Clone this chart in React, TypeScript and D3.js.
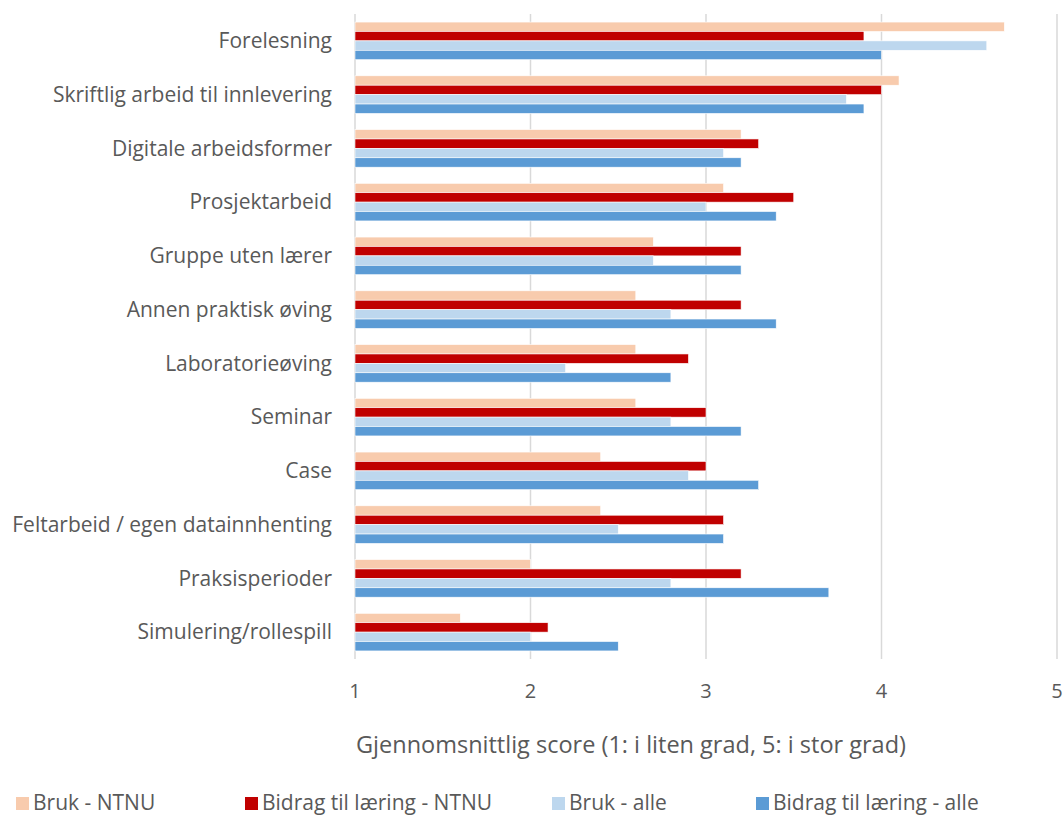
import * as d3 from 'd3';
import React from 'react';

const categories = [
  'Forelesning',
  'Skriftlig arbeid til innlevering',
  'Digitale arbeidsformer',
  'Prosjektarbeid',
  'Gruppe uten lærer',
  'Annen praktisk øving',
  'Laboratorieøving',
  'Seminar',
  'Case',
  'Feltarbeid / egen datainnhenting',
  'Praksisperioder',
  'Simulering/rollespill',
];

const seriesNames = ['Bruk - NTNU', 'Bidrag til læring - NTNU', 'Bruk - alle', 'Bidrag til læring - alle'];

const brukNtnu = [4.7, 4.1, 3.2, 3.1, 2.7, 2.6, 2.6, 2.6, 2.4, 2.4, 2.0, 1.6];
const bidragNtnu = [3.9, 4.0, 3.3, 3.5, 3.2, 3.2, 2.9, 3.0, 3.0, 3.1, 3.2, 2.1];
const brukAlle = [4.6, 3.8, 3.1, 3.0, 2.7, 2.8, 2.2, 2.8, 2.9, 2.5, 2.8, 2.0];
const bidragAlle = [4.0, 3.9, 3.2, 3.4, 3.2, 3.4, 2.8, 3.2, 3.3, 3.1, 3.7, 2.5];

const xTicks = [1, 2, 3, 4, 5];
const colors = ['#F8CBAD', '#C00000', '#BDD7EE', '#5B9BD5'];

const W = 1064;
const H = 816;
const font = '"Open Sans", "DejaVu Sans", sans-serif';

export default function App() {
  const seriesValues = [brukNtnu, bidragNtnu, brukAlle, bidragAlle];
  const x = d3.scaleLinear().domain([1, 5]).range([355, 1057]);
  const y = d3.scaleBand<string>().domain(categories).range([14, 659]).paddingInner(0.3).paddingOuter(0.15);
  const inner = d3.scaleBand<number>().domain([0, 1, 2, 3]).range([0, y.bandwidth()]);

  const legendX = [16, 245, 552, 756];

  return (
    <div style={{ position: 'absolute', left: 0, top: 0 }}>
      <svg width={W} height={H} style={{ display: 'block', background: '#fff' }}>
        {xTicks.map((t) => (
          <line key={t} x1={x(t)} x2={x(t)} y1={14} y2={659} stroke="#D9D9D9" strokeWidth={1.5} />
        ))}
        {categories.map((c, ci) => (
          <g key={c} transform={`translate(0,${y(c)})`}>
            {seriesValues.map((vals, si) => (
              <rect
                key={si}
                x={x(1)}
                y={inner(si)}
                width={x(vals[ci]) - x(1)}
                height={inner.bandwidth()}
                fill={colors[si]}
                stroke="#fff"
                strokeWidth={0.6}
              />
            ))}
            <text
              x={332}
              y={y.bandwidth() / 2}
              dy="0.35em"
              textAnchor="end"
              fontFamily={font}
              fontSize={21}
              fill="#595959"
            >
              {c}
            </text>
          </g>
        ))}
        {xTicks.map((t) => (
          <text key={t} x={x(t)} y={691} dy="0.35em" textAnchor="middle" fontFamily={font} fontSize={20} fill="#595959">
            {t}
          </text>
        ))}
        <text x={631} y={745} dy="0.35em" textAnchor="middle" fontFamily={font} fontSize={23.5} fill="#595959">
          Gjennomsnittlig score (1: i liten grad, 5: i stor grad)
        </text>
        {seriesNames.map((n, i) => (
          <g key={n} transform={`translate(${legendX[i]},803)`}>
            <rect x={0} y={-6} width={13} height={13} fill={colors[i]} />
            <text x={17} y={0} dy="0.35em" fontFamily={font} fontSize={21} fill="#595959">
              {n}
            </text>
          </g>
        ))}
      </svg>
    </div>
  );
}
